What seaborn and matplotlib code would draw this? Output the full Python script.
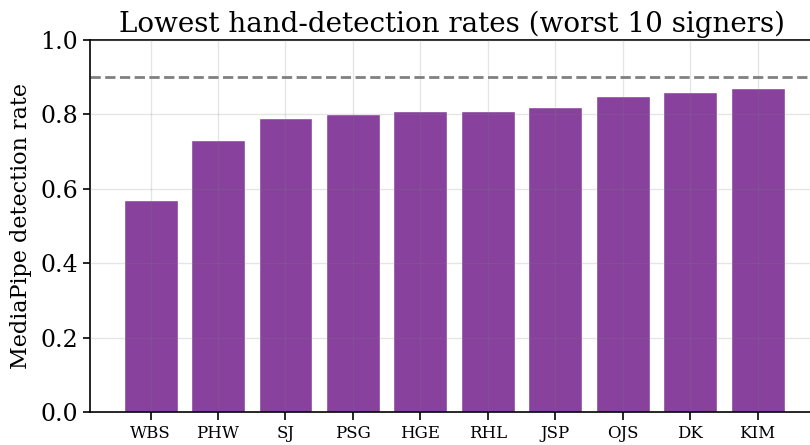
import matplotlib
matplotlib.use("Agg")
import matplotlib.pyplot as plt
import seaborn as sns
import pandas as pd

# worst 10 signers by MediaPipe hand-detection rate
signers = ["WBS", "PHW", "SJ", "PSG", "HGE", "RHL", "JSP", "OJS", "DK", "KIM"]
rates = [0.57, 0.73, 0.79, 0.80, 0.81, 0.81, 0.82, 0.85, 0.86, 0.87]
threshold = 0.9

df = pd.DataFrame({"signer": signers, "rate": rates})

sns.set_style("ticks")
plt.rcParams["font.family"] = ["DejaVu Serif"]
plt.rcParams["text.color"] = "black"
plt.rcParams["axes.labelcolor"] = "black"
plt.rcParams["axes.edgecolor"] = "black"
plt.rcParams["xtick.color"] = "black"
plt.rcParams["ytick.color"] = "black"

fig = plt.figure(figsize=(8.1, 4.45), dpi=100)
ax = fig.add_axes([0.111, 0.074, 0.895, 0.836])

sns.barplot(data=df, x="signer", y="rate", color="#88419d", saturation=1,
            width=0.8, ax=ax)
ax.axhline(threshold, color="gray", linestyle="--", linewidth=2)

ax.set_ylim(0, 1.0)
ax.set_xlim(-0.9, 9.85)
ax.set_title("Lowest hand-detection rates (worst 10 signers)", fontsize=20)
ax.set_xlabel("")
ax.set_ylabel("MediaPipe detection rate", fontsize=16, labelpad=6)
ax.tick_params(axis="y", labelsize=17, length=5, width=1.2)
ax.tick_params(axis="x", labelsize=12, length=6, width=1.2, pad=3.5)
for s in ax.spines.values():
    s.set_linewidth(1.2)
ax.grid(True, color="gray", alpha=0.2, linewidth=1)
ax.set_axisbelow(False)

fig.savefig("out.png", dpi=100)
